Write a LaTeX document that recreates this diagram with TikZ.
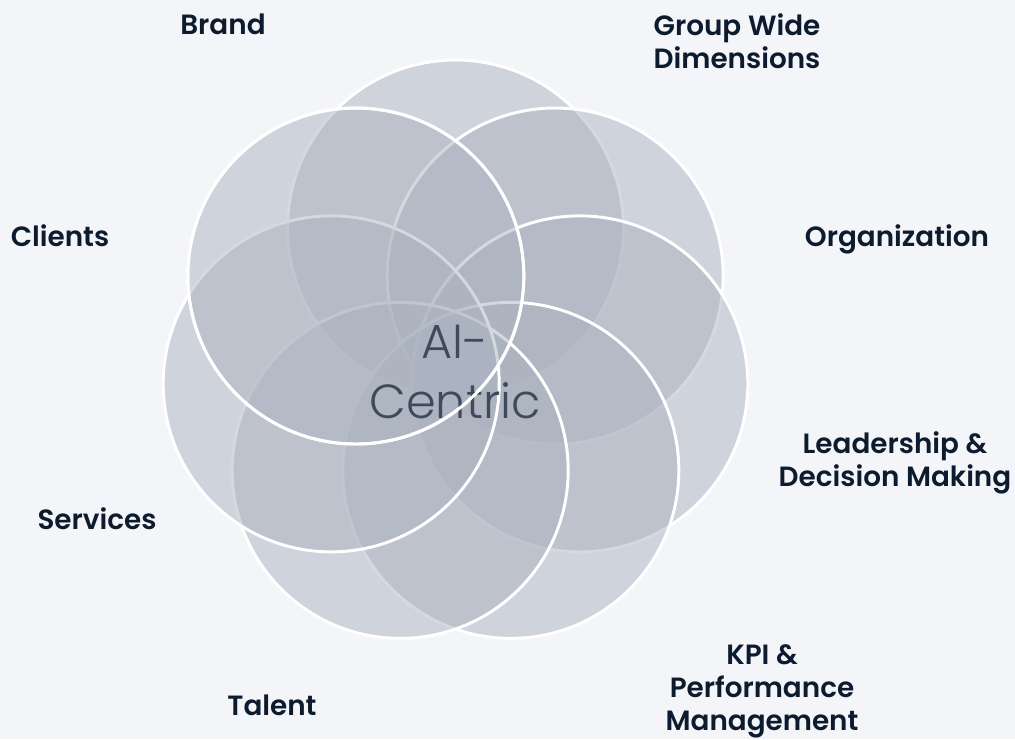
\documentclass[tikz,border=0pt]{standalone}
\usepackage{fontspec}
\setmainfont{Poppins}[BoldFont={Poppins SemiBold}]
\newfontfamily\hubfont{Poppins Light}
\usetikzlibrary{positioning}

\definecolor{paper}{HTML}{F4F5F9}
\definecolor{petalgray}{HTML}{ACB3C0}
\definecolor{labelink}{HTML}{0D1B2E}
\definecolor{hubink}{HTML}{3E4B5A}

\tikzset{
  petal/.style={fill=petalgray, fill opacity=0.5, draw=white, draw opacity=1, line width=2.1pt},
  tag/.style={font=\bfseries\fontsize{19.8}{23.4}\selectfont, text=labelink, align=center, inner sep=0pt},
  hub/.style={font=\hubfont\fontsize{34}{42.5}\selectfont, text=hubink, align=center, inner sep=0pt}
}

\begin{document}
\begin{tikzpicture}[x=0.025cm, y=-0.025cm]
	% \draw[help lines, step=50] (0,0) grid (1015,739);
	\fill[paper] (0,0) rectangle (1015,739);
	\useasboundingbox (0,0) rectangle (1015,739);

	\coordinate (ctr) at (455.5,355.5);

	% seven petals, clockwise from the top one
	\foreach \i in {0,...,6}
		\draw[petal] (ctr) ++(-90+\i*360/7:127.5) circle[radius=168];

	\node[hub] (core) at (455,372) {AI-\\Centric};
	% rim of the last petal runs over the centre text
	\draw[white, line width=2.1pt] (ctr) ++(-90+6*360/7:127.5) circle[radius=168];

	\node[tag] (brand) at (223,24) {Brand};
	\node[tag] (group) at (737,41) {Group Wide\\Dimensions};
	\node[tag] (clients) at (60,236) {Clients};
	\node[tag] (org) at (897,239) {Organization};
	\node[tag] (lead) at (895,463) {Leadership \&\\Decision Making};
	\node[tag] (services) at (97,519) {Services};
	\node[tag] (talent) at (272,705) {Talent};
	\node[tag] (kpi) at (762,691) {KPI \&\\Performance\\Management};
\end{tikzpicture}
\end{document}
